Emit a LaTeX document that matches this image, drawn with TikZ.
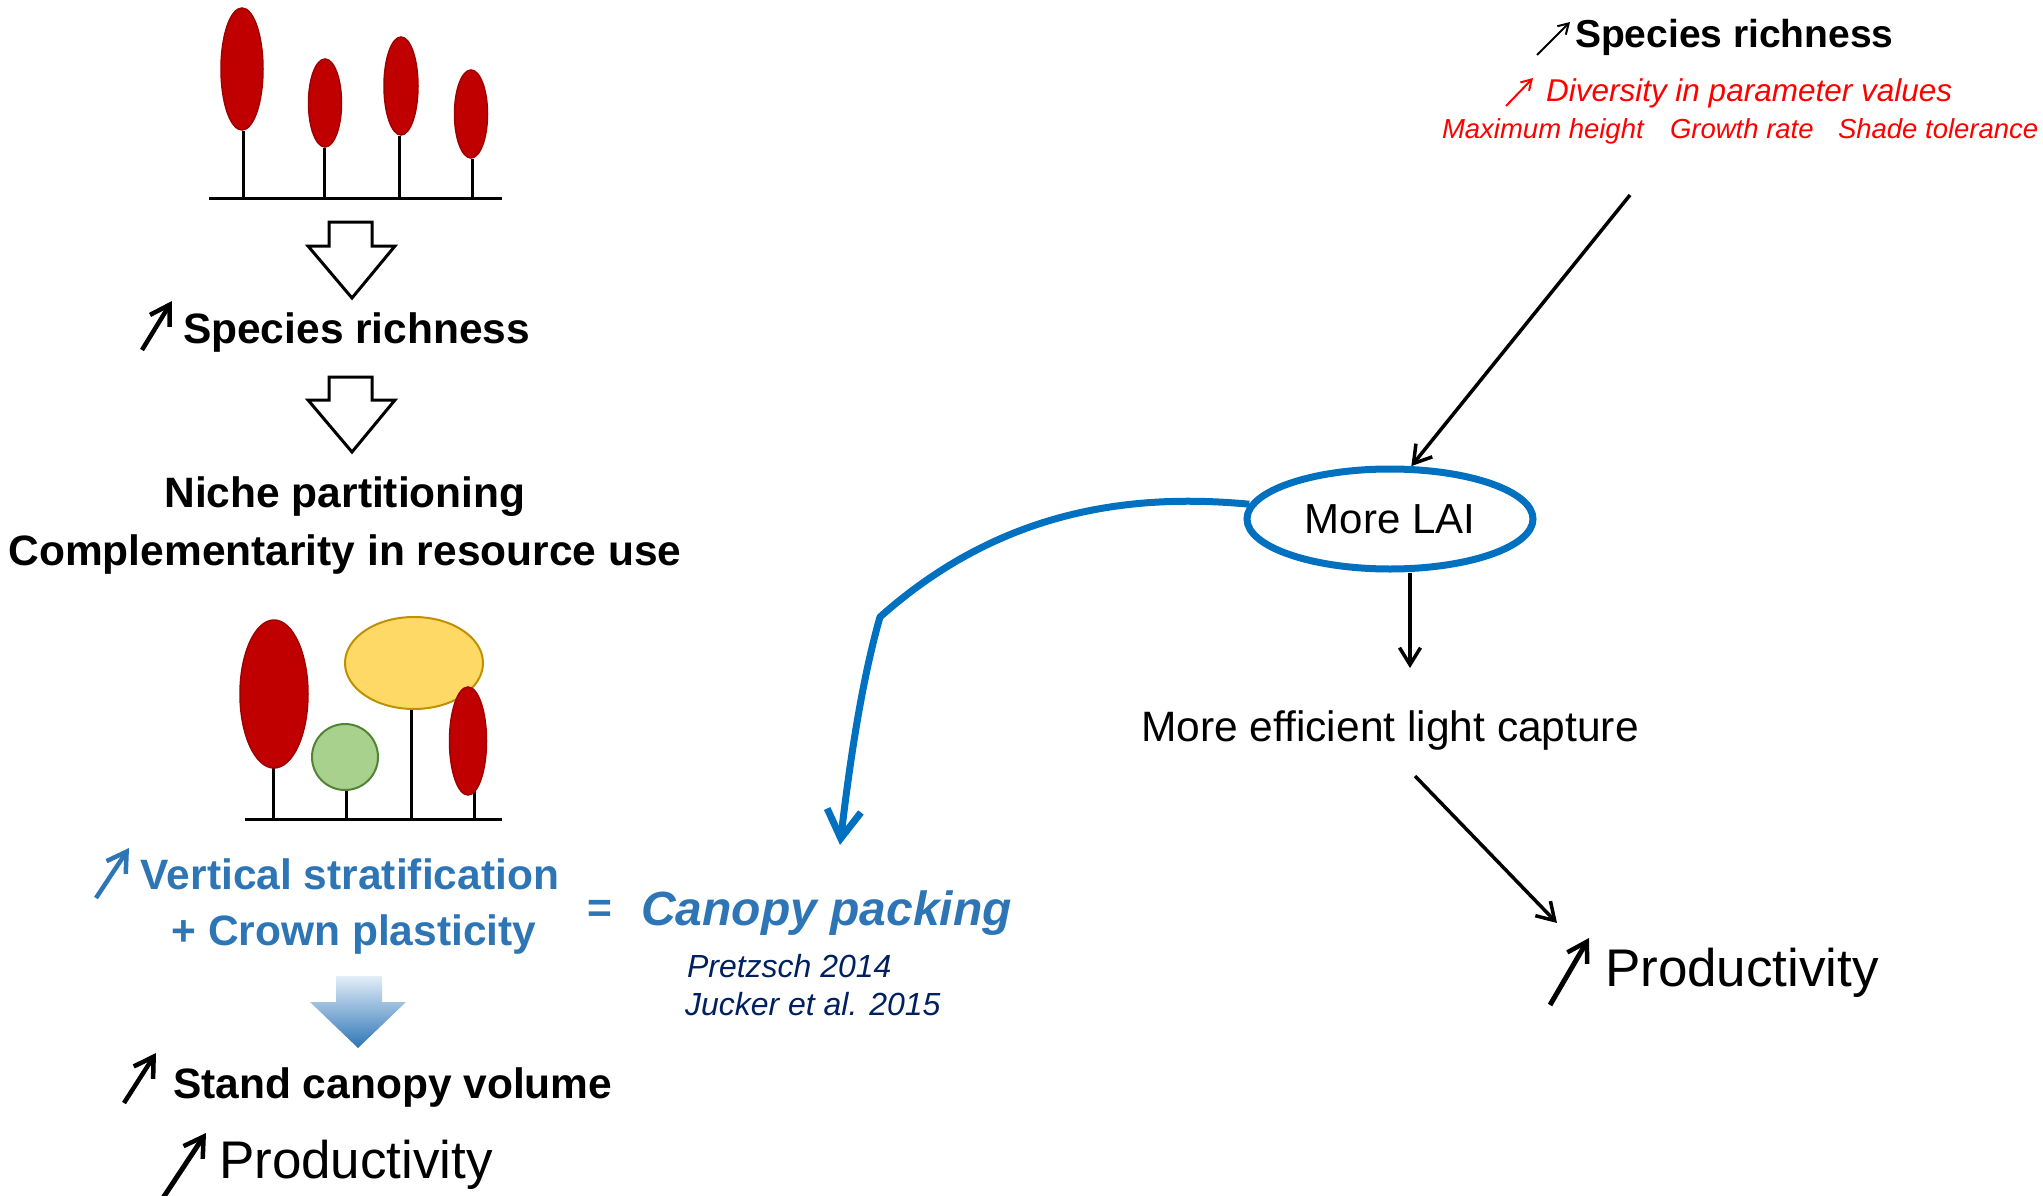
\documentclass[tikz,border=0pt]{standalone}
\usepackage{fontspec}
\setmainfont{Liberation Sans}
\usetikzlibrary{arrows.meta,shapes.geometric}

\definecolor{crownred}{HTML}{C00000}
\definecolor{crownredline}{HTML}{A00000}
\definecolor{crownyellow}{HTML}{FFD966}
\definecolor{crownyellowline}{HTML}{BF9000}
\definecolor{crowngreen}{HTML}{A9D18E}
\definecolor{crowngreenline}{HTML}{548235}
\definecolor{textblue}{HTML}{2E75B6}
\definecolor{linkblue}{HTML}{0070C0}
\definecolor{refnavy}{HTML}{002060}
\definecolor{paleblue}{HTML}{E3EEF9}
\definecolor{textred}{HTML}{FF0000}

\newcommand{\fsz}[1]{\fontsize{#1}{#1}\selectfont}

\begin{document}
\begin{tikzpicture}[x=1pt,y=-1pt,
  lbl/.style={inner sep=0pt, outer sep=0pt},
  boldtxt/.style={lbl, font=\fsz{42.5}\bfseries},
  plaintxt/.style={lbl, font=\fsz{42.5}},
  bigtxt/.style={lbl, font=\fsz{53}},
  trunk/.style={line width=3pt, black},
  redcrown/.style={fill=crownred, draw=crownredline, line width=1.5pt},
  hollowarrow/.style={draw=black, fill=white, line width=3pt, line join=miter},
  conn/.style={draw=black, line width=3.5pt, -{Straight Barb[length=17pt,width=21pt]}},
  uparrow/.style={line width=4.5pt, -{Straight Barb[length=19pt,width=23pt,line width=4.5pt]}},
  thinup/.style={line width=2pt, -{Straight Barb[length=10pt,width=12pt]}},
]
\useasboundingbox (0,0) rectangle (2043,1196);

% ---------- upper row of trees ----------
\draw[trunk] (209,198) -- (502,198);
\draw[trunk] (243,131) -- (243,198);
\draw[trunk] (324,148) -- (324,198);
\draw[trunk] (399,136) -- (399,198);
\draw[trunk] (472,159) -- (472,198);
\path[redcrown] (242,69) ellipse [x radius=21pt, y radius=61pt];
\path[redcrown] (325,103) ellipse [x radius=16.5pt, y radius=44pt];
\path[redcrown] (401,86) ellipse [x radius=17pt, y radius=49pt];
\path[redcrown] (471,114) ellipse [x radius=16.5pt, y radius=44pt];

% ---------- hollow arrows ----------
\draw[hollowarrow] (329,222) -- (372,222) -- (372,246) -- (395,246) -- (352,298)
  -- (308,246) -- (329,246) -- cycle;
\draw[hollowarrow] (329,377) -- (372,377) -- (372,400) -- (395,400) -- (352,452)
  -- (308,400) -- (329,400) -- cycle;

% ---------- left column texts ----------
\node[boldtxt, anchor=base west] (sprL) at (183,343) {Species richness};
\draw[uparrow] (142,350) -- (172,301);
\node[boldtxt, anchor=base] (niche) at (345,507) {Niche partitioning};
\node[boldtxt, anchor=base] (compl) at (345,565) {Complementarity in resource use};

% ---------- lower row of trees ----------
\draw[trunk] (245,819) -- (502,819);
\draw[trunk] (273,760) -- (273,819);
\draw[trunk] (346,790) -- (346,819);
\draw[trunk] (411,705) -- (411,819);
\draw[trunk] (474,790) -- (474,819);
\path[redcrown] (274,694) ellipse [x radius=34pt, y radius=74pt];
\path[fill=crowngreen, draw=crowngreenline, line width=2pt] (345,757) circle [radius=33pt];
\path[fill=crownyellow, draw=crownyellowline, line width=2pt] (414,663) ellipse [x radius=69pt, y radius=46pt];
\path[redcrown] (468,741) ellipse [x radius=18.5pt, y radius=54pt];

% ---------- canopy packing ----------
\node[boldtxt, text=textblue, anchor=base] (vert) at (350,889) {Vertical stratification};
\draw[uparrow, textblue] (96,898) -- (129,848);
\node[boldtxt, text=textblue, anchor=base] (crown) at (354,945) {+ Crown plasticity};
\node[boldtxt, text=textblue, anchor=base] (eq) at (600,922) {=};
\node[lbl, font=\fsz{48}\bfseries\itshape, text=textblue, anchor=base west] (packing) at (641,925) {Canopy packing};
\node[lbl, font=\fsz{32}\itshape, text=refnavy, anchor=base west] (ref1) at (687,977) {Pretzsch 2014};
\node[lbl, font=\fsz{32}\itshape, text=refnavy, anchor=base west] (ref2) at (685,1015) {Jucker et al. 2015};

\shade[top color=paleblue, bottom color=textblue]
  (336,976) -- (382,976) -- (382,1002) -- (406,1002) -- (358,1048)
  -- (310,1002) -- (336,1002) -- cycle;

\node[boldtxt, anchor=base west] (stand) at (173,1098) {Stand canopy volume};
\draw[uparrow] (124,1103) -- (156,1053);
\node[bigtxt, anchor=base west] (prodL) at (219,1178) {Productivity};
\draw[uparrow, line width=5pt] (163,1198) -- (206,1133);

% ---------- right part ----------
\node[lbl, font=\fsz{39}\bfseries, anchor=base west] (sprR) at (1575,48) {Species richness};
\draw[thinup] (1537,55) -- (1570,22);
\node[lbl, font=\fsz{31.5}\itshape, text=textred, anchor=base west] (divers) at (1546,102) {Diversity in parameter values};
\draw[thinup, textred] (1506,106) -- (1533,78);
\node[lbl, font=\fsz{27.5}\itshape, text=textred, anchor=base west] (pmax) at (1442,139) {Maximum height};
\node[lbl, font=\fsz{27.5}\itshape, text=textred, anchor=base west] (pgrow) at (1670,139) {Growth rate};
\node[lbl, font=\fsz{27.5}\itshape, text=textred, anchor=base west] (pshade) at (1838,139) {Shade tolerance};

\node[ellipse, draw=linkblue, line width=7pt, inner sep=0pt,
      minimum width=286pt, minimum height=100pt, font=\fsz{42}] (lai) at (1390,519) {More LAI};

\coordinate (srcTop) at (1630,195);
\draw[conn] (srcTop) -- (lai.68);

\node[plaintxt, anchor=base] (eff) at (1390,741) {More efficient light capture};
\coordinate (effIn) at (1410,668);
\draw[conn] (lai.south -| effIn) -- (effIn);

\coordinate (effOut) at (1415,776);
\coordinate (prodIn) at (1557,923);
\draw[conn] (effOut) -- (prodIn);

\node[bigtxt, anchor=base west] (prodR) at (1605,986) {Productivity};
\draw[uparrow, line width=5pt] (1550,1005) -- (1589,938);

% ---------- feedback from LAI to canopy packing ----------
\coordinate (packIn) at (840,845);
\draw[linkblue, line width=7pt, line join=round,
      -{Straight Barb[length=28pt,width=34pt]}]
  (lai.174) .. controls (1130,493) and (1000,510) .. (880,617)
  .. controls (862,680) and (850,760) .. (packIn);

\end{tikzpicture}
\end{document}
